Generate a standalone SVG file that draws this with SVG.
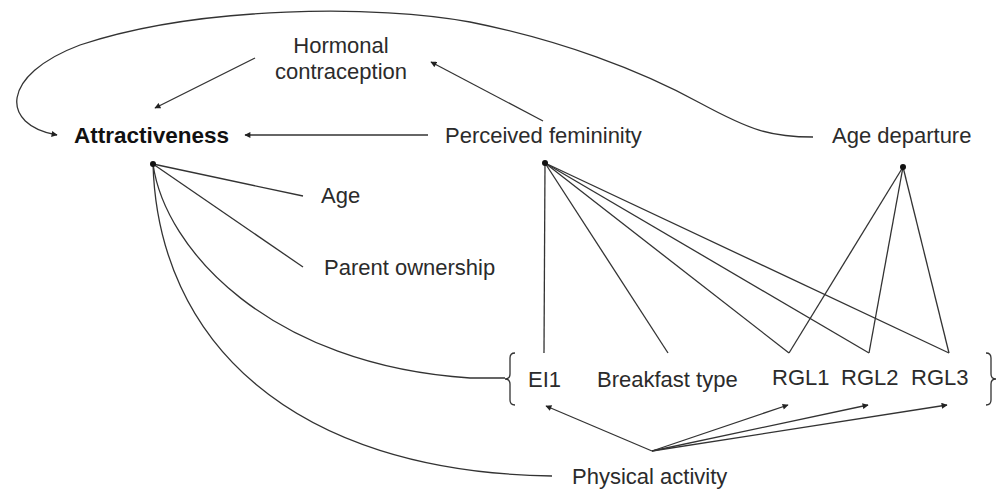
<svg xmlns="http://www.w3.org/2000/svg" width="1004" height="491" viewBox="0 0 1004 491">
<style>
text{font-family:"Liberation Sans",Arial,sans-serif;font-size:22px;fill:#2b2b2b}
.b{font-weight:bold;font-size:22.5px;fill:#111}
.c{fill:none;stroke:#333;stroke-width:1.3}
.a{marker-end:url(#ah)}
.dot{fill:#111}
</style>
<defs>
<marker id="ah" viewBox="0 0 10 10" refX="9" refY="5" markerWidth="7" markerHeight="6" markerUnits="userSpaceOnUse" orient="auto">
<path d="M0,0 L10,5 L0,10 z" fill="#222"/>
</marker>
</defs>
<rect width="1004" height="491" fill="#fff"/>
<g id="connectors">
<path class="c a" d="M813 137 C770 137 750 130 700 103 C640 70 560 40 470 22 C380 5 200 5 80 45 C0 75 0 125 57 135"/>
<path class="c a" d="M255 58 L155 108"/>
<path class="c a" d="M543 121 L431 62"/>
<path class="c a" d="M428 135 L245 135"/>
<path class="c" d="M153 164 L303 196"/>
<path class="c" d="M153 164 L303 267"/>
<path class="c" d="M153 164 C165 250 270 365 470 378 L505 378"/>
<path class="c" d="M153 164 C158 340 290 472 552 476"/>
<path class="c" d="M545 163 L544 353"/>
<path class="c" d="M545 163 L668 353"/>
<path class="c" d="M545 163 L789 353"/>
<path class="c" d="M545 163 L869 353"/>
<path class="c" d="M545 163 L949 353"/>
<path class="c" d="M903 167 L789 353"/>
<path class="c" d="M903 167 L869 353"/>
<path class="c" d="M903 167 L949 353"/>
<path class="c a" d="M652 451 L546 406"/>
<path class="c a" d="M652 451 L788 405"/>
<path class="c a" d="M652 451 L868 405"/>
<path class="c a" d="M652 451 L947 405"/>
<circle class="dot" cx="153" cy="164" r="3"/>
<circle class="dot" cx="545" cy="163" r="3"/>
<circle class="dot" cx="903" cy="167" r="3"/>
<path class="c" d="M515 353 Q510 353 510 358 L510 374 Q510 379 505 379 Q510 379 510 384 L510 400 Q510 405 515 405"/>
<path class="c" d="M986 353 Q991 353 991 358 L991 374 Q991 379 996 379 Q991 379 991 384 L991 400 Q991 405 986 405"/>
</g>
<g id="hormonal"><text x="341" y="53" text-anchor="middle">Hormonal</text><text x="341" y="79" text-anchor="middle">contraception</text></g>
<g id="attractiveness"><text class="b" x="74" y="143">Attractiveness</text></g>
<g id="perceived"><text x="445" y="143">Perceived femininity</text></g>
<g id="agedep"><text x="832" y="143">Age departure</text></g>
<g id="age"><text x="321" y="203">Age</text></g>
<g id="parent"><text x="324" y="275">Parent ownership</text></g>
<g id="ei1"><text x="528" y="387">EI1</text></g>
<g id="breakfast"><text x="597" y="387">Breakfast type</text></g>
<g id="rgl1"><text x="772" y="385">RGL1</text></g>
<g id="rgl2"><text x="841" y="385">RGL2</text></g>
<g id="rgl3"><text x="911" y="385">RGL3</text></g>
<g id="physical"><text x="572" y="484">Physical activity</text></g>
</svg>
